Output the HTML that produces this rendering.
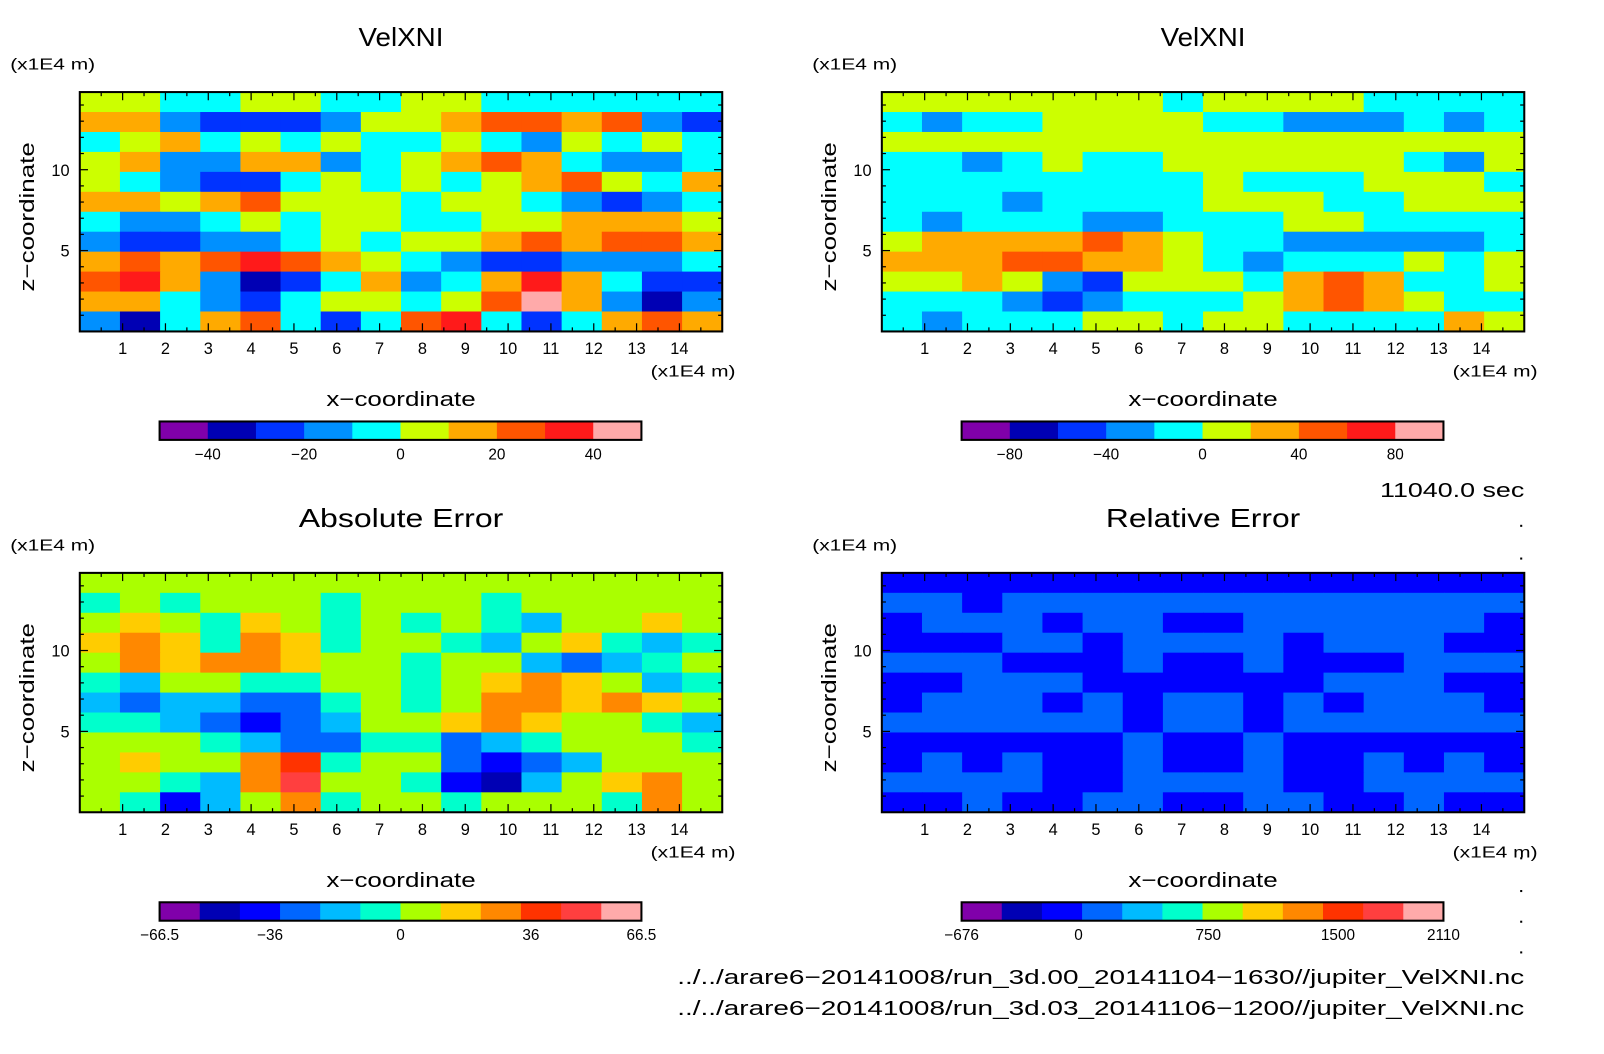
<!DOCTYPE html>
<html><head><meta charset="utf-8"><style>
body{margin:0;background:#fff;}
svg{display:block;font-family:"Liberation Sans",sans-serif;}
</style></head><body>
<svg id="root" width="1604" height="1054" viewBox="0 0 1604 1054"><g id="main" transform="scale(1.023)"></g></svg>
<script>
const NS="http://www.w3.org/2000/svg";
const root=document.getElementById('main');
// ---------- data ----------
const xTicks=[1,2,3,4,5,6,7,8,9,10,11,12,13,14];
const zTicks=[5,10];
const palA=["#8000aa","#0000b4","#0033ff","#0090ff","#00ffff","#ccff00","#ffaa00","#ff5500","#ff1a1a","#ffaaaa"];
const palB=["#8000aa","#0000b4","#0000ff","#0066ff","#00bbff","#00ffcc","#aaff00","#ffcc00","#ff8800","#ff3300","#ff3f3f","#ffaaaa"];
const fieldTL=[
[5,5,4,4,5,5,4,4,5,5,4,4,4,4,4,4],
[6,6,3,2,2,2,3,5,5,6,7,7,6,7,3,2],
[4,5,6,4,5,4,5,4,4,5,4,3,5,4,5,4],
[5,6,3,3,6,6,3,4,5,6,7,6,4,3,3,4],
[5,4,3,2,2,4,5,4,5,4,5,6,7,5,4,6],
[6,6,5,6,7,5,5,5,4,5,5,4,3,2,3,4],
[4,3,3,4,5,4,5,5,4,4,5,5,6,6,6,5],
[3,2,2,3,3,4,5,4,5,5,6,7,6,7,7,6],
[6,7,6,7,8,7,6,5,4,3,2,2,3,3,3,4],
[7,8,6,3,1,2,4,6,3,4,6,8,6,4,2,2],
[6,6,4,3,2,4,5,5,4,5,7,9,6,3,1,3],
[3,1,4,6,7,4,2,4,7,8,4,2,4,6,7,6]];
const fieldTR=[
[5,5,5,5,5,5,5,4,5,5,5,5,4,4,4,4],
[4,3,4,4,5,5,5,5,4,4,3,3,3,4,3,4],
[5,5,5,5,5,5,5,5,5,5,5,5,5,5,5,5],
[4,4,3,4,5,4,4,5,5,5,5,5,5,4,3,5],
[4,4,4,4,4,4,4,4,5,4,4,4,5,5,5,4],
[4,4,4,3,4,4,4,4,5,5,5,4,4,5,5,5],
[4,3,4,4,4,3,3,4,4,4,5,5,4,4,4,4],
[5,6,6,6,6,7,6,5,4,4,3,3,3,3,3,4],
[6,6,6,7,7,6,6,5,4,3,4,4,4,5,4,5],
[5,5,6,5,3,2,5,5,5,4,6,7,6,4,4,5],
[4,4,4,3,2,3,4,4,4,5,6,7,6,5,4,4],
[4,3,4,4,4,5,5,4,5,5,4,4,4,4,6,5]];
const fieldBL=[
[6,6,6,6,6,6,6,6,6,6,6,6,6,6,6,6],
[5,6,5,6,6,6,5,6,6,6,5,6,6,6,6,6],
[6,7,6,5,7,6,5,6,5,6,5,4,6,6,7,6],
[7,8,7,5,8,7,5,6,6,5,4,6,7,5,4,5],
[6,8,7,8,8,7,6,6,5,6,6,4,3,4,5,6],
[5,4,6,6,5,5,6,6,5,6,7,8,7,6,4,5],
[4,3,4,4,3,3,5,6,5,6,8,8,7,8,7,6],
[5,5,4,3,2,3,4,6,6,7,8,7,6,6,5,4],
[6,6,6,5,4,3,3,5,5,3,4,5,6,6,6,5],
[6,7,6,6,8,9,5,6,6,3,2,3,4,6,6,6],
[6,6,5,4,8,10,6,6,5,2,1,4,6,7,8,6],
[6,5,2,4,6,8,5,6,6,5,6,6,6,5,8,6]];
const fieldBR=[
[2,2,2,2,2,2,2,2,2,2,2,2,2,2,2,2],
[3,3,2,3,3,3,3,3,3,3,3,3,3,3,3,3],
[2,3,3,3,2,3,3,2,2,3,3,3,3,3,3,2],
[2,2,2,3,3,2,3,3,3,3,2,3,3,3,2,2],
[3,3,3,2,2,2,3,2,2,3,2,2,2,3,3,3],
[2,2,3,3,3,2,2,2,2,2,2,3,3,3,2,2],
[2,3,3,3,2,3,2,3,3,2,3,2,3,3,3,2],
[3,3,3,3,3,3,2,3,3,2,3,3,3,3,3,3],
[2,2,2,2,2,2,3,2,2,3,2,2,2,2,2,2],
[2,3,2,3,2,2,3,2,2,3,2,2,3,2,3,2],
[3,3,3,3,2,2,3,3,3,3,2,2,3,3,3,3],
[2,2,3,2,2,3,3,2,2,3,3,2,2,3,2,2]];
const cbLabelsTL=["-40","-20","0","20","40"];
const cbValsTL=[-40,-20,0,20,40];
const cbLabelsTR=["-80","-40","0","40","80"];
const cbValsTR=[-80,-40,0,40,80];
const cbLabelsBL=["-66.5","-36","0","36","66.5"];
const cbValsBL=[-66.5,-36,0,36,66.5];
const cbLabelsBR=["-676","0","750","1500","2110"];
const cbValsBR=[-676,0,750,1500,2110];
// ---------- helpers ----------
function el(tag,attrs,parent){const e=document.createElementNS(NS,tag);for(const k in attrs)e.setAttribute(k,attrs[k]);(parent||root).appendChild(e);return e;}
function txt(s,x,y,size,anchor,name,extra,len){const a=Object.assign({x:x,y:y,'font-size':size,'text-anchor':anchor||'middle',fill:'#000'},extra||{});
if(len){a.textLength=len;a.lengthAdjust='spacingAndGlyphs';}
const t=el('text',a);t.textContent=s;


return t;}
const X0=0,X1=15,Z0=0,Z1=14.8;
function panel(px,py,title,titleLen,field,pal,cbLabels,cbVals,cbMin,cbMax,id){
  const W=628,H=234;
  const g=el('g',{});
  
  
  const xs=v=>px+(v-X0)/(X1-X0)*W;
  const zs=v=>py+H-(v-Z0)/(Z1-Z0)*H;
  const rows=field.length,cols=field[0].length;
  const cw=W/cols,rh=H/rows;
  field.forEach((row,r)=>row.forEach((v,c)=>{
    const rc=el('rect',{x:px+c*cw,y:py+r*rh,width:cw+0.6,height:rh+0.6,fill:pal[v]},g);
    
    
  }));
  const fr=el('rect',{x:px,y:py,width:W,height:H,fill:'none',stroke:'#000','stroke-width':2},g);
  
  
  for(let v=0.5;v<15;v+=0.5){const major=Number.isInteger(v);const L=major?8:4;
    el('line',{x1:xs(v),x2:xs(v),y1:py+H,y2:py+H-L,stroke:'#000','stroke-width':1.2},g);
    el('line',{x1:xs(v),x2:xs(v),y1:py,y2:py+L,stroke:'#000','stroke-width':1.2},g);}
  for(let v=1;v<Z1;v+=1){const L=(v%5===0)?8:4;
    el('line',{x1:px,x2:px+L,y1:zs(v),y2:zs(v),stroke:'#000','stroke-width':1.2},g);
    el('line',{x1:px+W,x2:px+W-L,y1:zs(v),y2:zs(v),stroke:'#000','stroke-width':1.2},g);}
  xTicks.forEach(v=>txt(String(v),xs(v),py+H+22,16,'middle','x-tick-label'));
  zTicks.forEach(v=>txt(String(v),px-10,zs(v)+6,16,'end','z-tick-label'));
  txt(title,px+W/2,py-45,25,'middle',id+'-title',null,titleLen);
  txt('(x1E4 m)',px-68,py-22,15,'start','z-unit-label',null,83);
  txt('(x1E4 m)',px+W+13,py+H+44,15,'end','x-unit-label',null,83);
  txt('x\u2212coordinate',px+W/2,py+H+73,20,'middle','x-axis-title',null,146);
  txt('z\u2212coordinate',0,0,20,'middle','z-axis-title',{transform:`translate(${px-45},${py+H/2+5}) rotate(-90)`},146);
  const cx=px+78,cw2=471,cy=py+322,ch=18,n=pal.length,sw=cw2/n;
  pal.forEach((c,i)=>{const r=el('rect',{x:cx+i*sw,y:cy,width:sw+0.5,height:ch,fill:c},g);
    
    });
  const cf=el('rect',{x:cx,y:cy,width:cw2,height:ch,fill:'none',stroke:'#000','stroke-width':2},g);
  
  
  const cs=v=>cx+(v-cbMin)/(cbMax-cbMin)*cw2;
  cbVals.forEach((v,i)=>txt(cbLabels[i].replace('-','\u2212'),cs(v),cy+37,15,'middle','colorbar-label'));
}
panel(78,90,'VelXNI',83,fieldTL,palA,cbLabelsTL,cbValsTL,-50,50,'velxni-left');
panel(862,90,'VelXNI',83,fieldTR,palA,cbLabelsTR,cbValsTR,-100,100,'velxni-right');
panel(78,560,'Absolute Error',200,fieldBL,palB,cbLabelsBL,cbValsBL,-66.5,66.5,'absolute-error');
panel(862,560,'Relative Error',190,fieldBR,palB,cbLabelsBR,cbValsBR,-676,2110,'relative-error');
txt('11040.0 sec',1490,486,20,'end','time-label',null,141);
txt('../../arare6\u221220141008/run_3d.00_20141104\u22121630//jupiter_VelXNI.nc',1490,962,20,'end','file-path-1',null,828);
txt('../../arare6\u221220141008/run_3d.03_20141106\u22121200//jupiter_VelXNI.nc',1490,992,20,'end','file-path-2',null,828);
[513,545,838,870,900,930].forEach(y=>{const d=el('rect',{x:1486,y:y,width:2,height:2,fill:'#000'});
  
  });
</script>
</body></html>
